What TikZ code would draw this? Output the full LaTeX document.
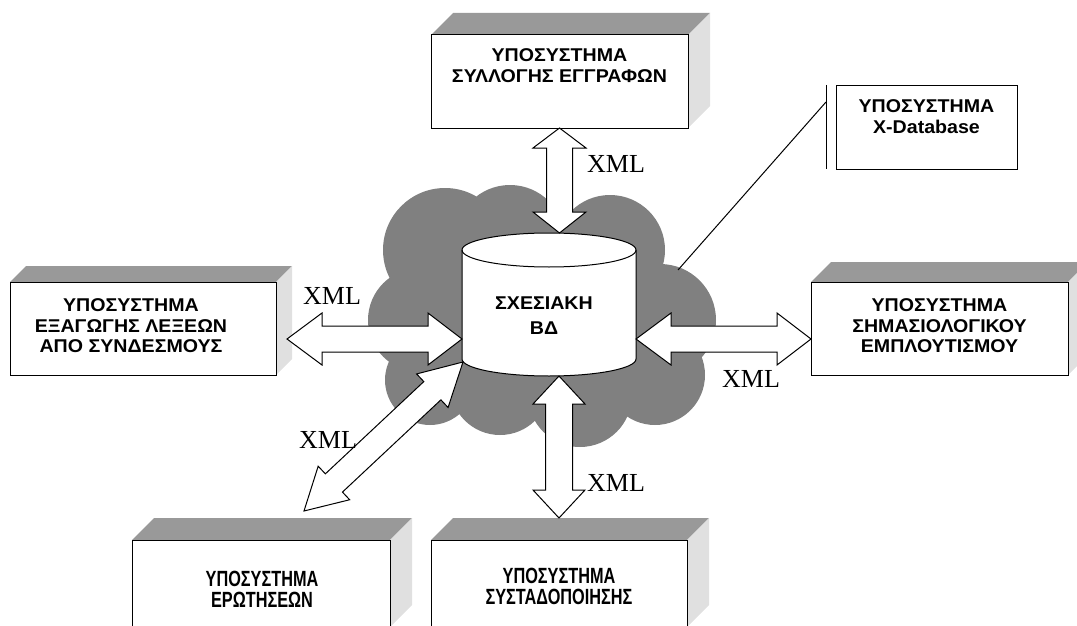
\documentclass[tikz,border=0pt]{standalone}
\usepackage{fontspec}
\setmainfont{Liberation Serif}
\newfontfamily\boxfont{Liberation Sans Bold}[FakeStretch=1.06]
\newfontfamily\narrowfont{Liberation Sans Bold}[FakeStretch=0.74]
\usetikzlibrary{calc}
\definecolor{cloudgray}{RGB}{128,128,128}
\definecolor{topgray}{RGB}{153,153,153}
\definecolor{sidegray}{RGB}{224,224,224}

\tikzset{
  frontface/.style={fill=white, inner sep=0pt, outer sep=0pt, anchor=north west},
  edge/.style={draw=black, line width=1pt},
  boxlabel/.style={font=\boxfont\fontsize{18.5}{20.5}\selectfont, align=center, inner sep=0pt, anchor=north},
  dblabel/.style={font=\boxfont\fontsize{18.5}{25}\selectfont, align=center, inner sep=0pt, anchor=north},
  narrowlabel/.style={font=\narrowfont\fontsize{22}{20.5}\selectfont, align=center, inner sep=0pt, anchor=north},
  xmllabel/.style={font=\fontsize{26}{26}\selectfont, inner sep=0pt, anchor=base west},
  blockarrow/.style={draw=black, line width=1pt, fill=white, line join=miter},
  dbshape/.style={draw=black, line width=1pt, fill=white},
}

% a box with a shaded top and right face: name, left, top, width, height, depth
\newcommand\solidbox[6]{%
  \node[frontface, minimum width=#4pt, minimum height=#5pt] (#1) at (#2,#3) {};
  \fill[topgray] (#1.north west) -- ++(#6,-#6) -- ($(#1.north east)+(#6,-#6)$) -- (#1.north east) -- cycle;
  \fill[sidegray] (#1.north east) -- ($(#1.north east)+(#6,-#6)$) -- ($(#1.south east)+(#6,-#6)$) -- (#1.south east) -- cycle;
  \draw[edge] (#1.north west) rectangle (#1.south east);
}

% double-headed block arrow: from, to, head length at from, head length at to, half head width, half shaft width
\newcommand\dblarrow[6]{%
  \draw[blockarrow] (#1)
    -- ($(#1)!#3pt!(#2)!#5pt!90:(#2)$)
    -- ($(#1)!#3pt!(#2)!#6pt!90:(#2)$)
    -- ($(#2)!#4pt!(#1)!#6pt!-90:(#1)$)
    -- ($(#2)!#4pt!(#1)!#5pt!-90:(#1)$)
    -- (#2)
    -- ($(#2)!#4pt!(#1)!#5pt!90:(#1)$)
    -- ($(#2)!#4pt!(#1)!#6pt!90:(#1)$)
    -- ($(#1)!#3pt!(#2)!#6pt!-90:(#2)$)
    -- ($(#1)!#3pt!(#2)!#5pt!-90:(#2)$)
    -- cycle;
}

\begin{document}
\begin{tikzpicture}[x=1pt,y=-1pt]
\useasboundingbox (0,0) rectangle (1077,626);
\clip (0,0) rectangle (1077,626);

% cloud behind the database
\fill[cloudgray]
  (545,320) circle (95pt)
  (445,250) circle (62pt)
  (510,240) circle (55pt)
  (610,250) circle (55pt)
  (660,320) circle (56pt)
  (655,375) circle (50pt)
  (580,395) circle (52pt)
  (500,385) circle (50pt)
  (420,320) circle (52pt)
  (430,380) circle (45pt);

% callout to the X-Database subsystem
\coordinate (callCloud) at (678,270);
\coordinate (callBar) at (826,102);
\coordinate (barTop) at (826,85);
\coordinate (barBot) at (826,169);
\draw[line width=1pt] (callCloud) -- (callBar);
\draw[line width=1pt] (barTop) -- (barBot);
\node[frontface, draw=black, line width=1pt, minimum width=181pt, minimum height=83pt] (sysXdb) at (836,86) {};
\node[boxlabel] (sysXdbT) at (926.5,99.8) {ΥΠΟΣΥΣΤΗΜΑ\\X-Database};

% subsystems
\solidbox{sysTop}{431}{35}{257}{93}{22}
\node[boxlabel] (sysTopT) at (559.5,48.8) {ΥΠΟΣΥΣΤΗΜΑ\\ΣΥΛΛΟΓΗΣ ΕΓΓΡΑΦΩΝ};

\solidbox{sysLeft}{10}{282}{266}{93}{16}
\node[boxlabel] (sysLeftT) at (131,298.8) {ΥΠΟΣΥΣΤΗΜΑ\\ΕΞΑΓΩΓΗΣ ΛΕΞΕΩΝ\\ΑΠΟ ΣΥΝΔΕΣΜΟΥΣ};

\solidbox{sysRight}{811}{282}{257}{93}{20}
\node[boxlabel] (sysRightT) at (939.5,298.8) {ΥΠΟΣΥΣΤΗΜΑ\\ΣΗΜΑΣΙΟΛΟΓΙΚΟΥ\\ΕΜΠΛΟΥΤΙΣΜΟΥ};

\solidbox{sysQuery}{132}{540}{258}{87}{22}
\node[narrowlabel] (sysQueryT) at (262,571) {ΥΠΟΣΥΣΤΗΜΑ\\ΕΡΩΤΗΣΕΩΝ};

\solidbox{sysCluster}{431}{540}{256}{87}{22}
\node[narrowlabel] (sysClusterT) at (559,568) {ΥΠΟΣΥΣΤΗΜΑ\\ΣΥΣΤΑΔΟΠΟΙΗΣΗΣ};

% relational database cylinder
\coordinate (dbTL) at (462,250);
\coordinate (dbBL) at (462,359);
\coordinate (dbTR) at (636,250);
\filldraw[dbshape] (dbTL) -- (dbBL)
  arc[start angle=180, end angle=360, x radius=87pt, y radius=17pt]
  -- (dbTR)
  arc[start angle=0, end angle=180, x radius=87pt, y radius=17pt] -- cycle;
\draw[line width=1pt] (dbTL) arc[start angle=180, end angle=360, x radius=87pt, y radius=17pt];
\node[dblabel] (db) at (544,296.8) {ΣΧΕΣΙΑΚΗ\\ΒΔ};

\coordinate (dbTop) at (559.5,233);
\coordinate (dbBot) at (559,376);
\coordinate (dbL) at (462,339);
\coordinate (dbR) at (636,339);
\coordinate (dbDiag) at (463,362);

% arrow ends at the subsystems
\coordinate (leftTip) at (287,339);
\coordinate (rightTip) at (811,339);
\coordinate (botTip) at (559,518);
\coordinate (diagTip) at (304,511);

% XML exchange arrows
\dblarrow{sysTop.south}{dbTop}{20}{21}{26.5}{13}
\dblarrow{leftTip}{dbL}{35}{34}{26}{13}
\dblarrow{dbR}{rightTip}{35}{34}{26}{13}
\dblarrow{dbBot}{botTip}{28}{28}{26}{13.5}
\dblarrow{dbDiag}{diagTip}{42}{41}{23}{12.5}

% labels
\node[xmllabel] (xmlTop) at (587,172) {XML};
\node[xmllabel] (xmlLeft) at (303,304) {XML};
\node[xmllabel] (xmlRight) at (722,387) {XML};
\node[xmllabel] (xmlDiag) at (299,448) {XML};
\node[xmllabel] (xmlBottom) at (587,491) {XML};
\end{tikzpicture}
\end{document}
